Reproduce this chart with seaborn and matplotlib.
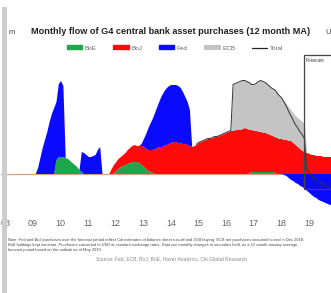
import numpy as np
import pandas as pd
import matplotlib
matplotlib.use("Agg")
import matplotlib.pyplot as plt
import seaborn as sns
from matplotlib.patches import Patch, Rectangle
from matplotlib.lines import Line2D

# Monthly flow, 12m MA (USD bn), Jan 2008 .. Dec 2019, one row per year
boe = [
    0, 0, 0, 0, 0, 0, 0, 0, 0, 0, 0, 0,
    0, 0, 0, 0, 0, 0, 0, 0, 0, 0, 14, 17,
    17, 17, 16, 15, 13, 11, 9, 7, 4, 2, 0, 0,
    0, 0, 0, 0, 0, 0, 0, 0, 0, 0, 0, 1,
    3, 5, 7, 8, 9, 10, 11, 12, 12, 12, 11, 9,
    7, 5, 3, 2, 1, 0, 0, 0, 0, 0, 0, 0,
    0, 0, 0, 0, 0, 0, 0, 0, 0, 0, 0, 0,
    0, 0, 0, 0, 0, 0, 0, 0, 0, 0, 0, 0,
    0, 0, 0, 0, 0, 0, 0, 0, 0, 0, 1, 2,
    2, 2, 2, 2, 2, 2, 2, 2, 2, 1, 0, 0,
    0, 0, 0, 0, 0, 0, 0, 0, 0, 0, 0, 0,
    0, 0, 0, 0, 0, 0, 0, 0, 0, 0, 0, 0,
]
boj = [
    0, 0, 0, 0, 0, 0, 0, 0, 0, 0, 0, 0,
    0, 0, 0, 0, 0, 0, 0, 0, 0, 0, 0, 0,
    0, 0, 0, 0, 0, 0, 0, 0, 0, 0, 0, 0,
    0, 0, 0, 0, 0, 0, 0, 0, 0, 0, 5, 8,
    9, 10, 10, 11, 12, 14, 15, 16, 17, 16, 17, 19,
    20, 20, 21, 22, 23, 25, 26, 27, 27, 28, 29, 30,
    31, 32, 32, 31, 31, 30, 30, 29, 28, 27, 28, 29,
    31, 32, 33, 34, 35, 35, 36, 37, 37, 38, 39, 40,
    41, 42, 43, 43, 44, 44, 44, 45, 46, 45, 43, 42,
    41, 41, 40, 40, 39, 39, 38, 37, 36, 36, 36, 35,
    35, 34, 34, 33, 33, 31, 29, 27, 25, 23, 22, 21,
    20, 19, 19, 18, 18, 18, 17, 17, 17, 17, 17, 17,
]
fed = [
    0, 0, 0, 0, 0, 0, 0, 0, 0, 0, 0, 0,
    0, 0, 6, 16, 26, 34, 42, 52, 60, 66, 58, 73,
    76, 71, 0, 0, 0, 0, 0, 0, 0, 20, 21, 19,
    17, 17, 18, 19, 24, 27, 0, 0, 0, 0, 0, 0,
    0, 0, 0, 0, 0, 0, 0, 0, 0, 0, 0, 2,
    8, 15, 22, 27, 32, 37, 42, 47, 52, 55, 57, 58,
    58, 57, 57, 57, 55, 52, 47, 43, 36, 0, 0, 0,
    0, 0, 0, 0, 0, 0, 0, 0, 0, 0, 0, 0,
    0, 0, 0, 0, 0, 0, 0, 0, 0, 0, 0, 0,
    0, 0, 0, 0, 0, 0, 0, 0, 0, 0, 0, 0,
    0, -1, -2, -4, -6, -7, -9, -10, -12, -13, -15, -17,
    -19, -21, -23, -24, -26, -27, -28, -29, -30, -31, -31, -32,
]
ecb = [
    0, 0, 0, 0, 0, 0, 0, 0, 0, 0, 0, 0,
    0, 0, 0, 0, 0, 0, 0, 0, 0, 0, 0, 0,
    0, 0, 0, 0, 0, 0, 0, 0, 0, 0, 0, 0,
    0, 0, 0, 0, 0, 0, 0, 0, 0, 0, 0, 0,
    0, 0, 0, 0, 0, 0, 0, 0, 0, 0, 0, 0,
    0, 0, 0, 0, 0, 0, 0, 0, 0, 0, 0, 0,
    0, 0, 0, 0, 0, 0, 0, 0, 0, 0, 0, 0,
    0, 0, 0, 0, 0, 0, 0, 0, 0, 0, 0, 0,
    0, 0, 0, 46, 46, 47, 48, 48, 47, 47, 47, 45,
    46, 47, 50, 51, 51, 50, 49, 48, 47, 47, 45, 43,
    41, 39, 36, 34, 31, 30, 29, 29, 29, 29, 28, 0,
    0, 0, 0, 0, 0, 0, 0, 0, 0, 0, 0, 0,
]
years = list(range(2008, 2020))
year_labels = ["08", "09", "10", "11", "12", "13", "14", "15", "16", "17", "18", "19"]
forecast_start = 2018.82

df = pd.DataFrame({"BoE": boe, "BoJ": boj, "Fed": fed, "ECB": ecb})
df["t"] = 2008 + np.arange(len(df)) / 12
df["Total"] = df[["BoE", "BoJ", "Fed", "ECB"]].sum(axis=1)

colors = {"BoE": "#1fa64a", "BoJ": "#ff0a0a", "Fed": "#0a0aff", "ECB": "#c4c4c4"}

sns.set_style("white")
plt.rcParams["font.family"] = ["Liberation Sans", "DejaVu Sans"]

fig = plt.figure(figsize=(3.31, 2.93), dpi=100)
# chart is cropped on both sides, so the axes run past the figure edges
ax = fig.add_axes([1.26 / 331, 79.5 / 293, 351.9 / 331, 170 / 293])

ax.axhline(0, color="#d9a27a", lw=0.9, zorder=1)

# stacked areas, positive part; Fed runoff drawn below zero
fed_pos = df["Fed"].clip(lower=0)
fed_neg = df["Fed"].clip(upper=0)
b1 = df["BoE"]
b2 = b1 + df["BoJ"]
b3 = b2 + fed_pos
b4 = b3 + df["ECB"]
ax.fill_between(df["t"], 0, b1, color=colors["BoE"], lw=0, zorder=2)
ax.fill_between(df["t"], b1, b2, color=colors["BoJ"], lw=0, zorder=2)
ax.fill_between(df["t"], b2, b3, color=colors["Fed"], lw=0, zorder=2)
ax.fill_between(df["t"], b3, b4, color=colors["ECB"], lw=0, zorder=2)
ax.fill_between(df["t"], fed_neg, 0, color=colors["Fed"], lw=0, zorder=2)

tot = df[df["t"] >= 2014.9]
sns.lineplot(x=tot["t"], y=tot["Total"], ax=ax, color="#333333", lw=0.7,
             zorder=3, legend=False)

# forecast box
ax.add_patch(Rectangle((forecast_start, -15), 3, 133.5, fill=False,
                       ec="#444444", lw=0.9, zorder=4, clip_on=False))
ax.text(forecast_start + 0.07, 113, "Forecast", fontsize=3.4, color="#333333",
        va="center", ha="left", zorder=4)

ax.set_xlim(2007.85, 2020.6)
ax.set_ylim(-40, 130)
ax.set_xticks(years)
ax.set_xticklabels(year_labels)
ax.set_yticks([])
ax.tick_params(axis="x", length=0, pad=4, labelsize=6.5, labelcolor="#666666")
for s in ax.spines.values():
    s.set_visible(False)
ax.set_xlabel("")
ax.set_ylabel("")

fig.text(171 / 331, 1 - 32 / 293,
         "Monthly flow of G4 central bank asset purchases (12 month MA)",
         ha="center", va="center", fontsize=6.6, fontweight="bold", color="#222222")
fig.text(9 / 331, 1 - 32 / 293, "m", ha="left", va="center", fontsize=5.5, color="#444444")
fig.text(325 / 331, 1 - 32 / 293, "U", ha="left", va="center", fontsize=5.5, color="#444444")

handles = [Patch(color=colors["BoE"]), Patch(color=colors["BoJ"]),
           Patch(color=colors["Fed"]), Patch(fc=colors["ECB"], ec="#aaaaaa", lw=0.4),
           Line2D([0], [0], color="#222222", lw=0.9)]
fig.legend(handles, ["BoE", "BoJ", "Fed", "ECB", "Total"], loc="center",
           bbox_to_anchor=(175 / 331, 1 - 48 / 293), ncol=5, frameon=False,
           fontsize=4.6, handlelength=2.4, handleheight=0.6, columnspacing=2.6,
           handletextpad=0.4, labelcolor="#666666")

note = ("Note: Fed and BoJ purchases over the forecast period reflect Citi estimates of balance sheet run-off and JGB buying; ECB net purchases assumed to end in Dec 2018,\n"
        "BoE holdings kept constant. Purchases converted to USD at constant exchange rates. Data are monthly changes in securities held, as a 12 month moving average,\n"
        "forecast period based on the outlook as of May 2019.")
fig.text(8 / 331, 1 - 245 / 293, note, ha="left", va="center", fontsize=2.9,
         color="#444444", linespacing=1.25)
fig.text(172 / 331, 1 - 260 / 293,
         "Source: Fed, ECB, BoJ, BoE, Haver Analytics, Citi Global Research",
         ha="center", va="center", fontsize=3.6, color="#888888")

# grey border strip of the screenshot
fig.add_artist(Rectangle((2 / 331, 0), 5 / 331, 286 / 293, transform=fig.transFigure,
                         fc="#cdcdcd", ec="none", zorder=10))

fig.savefig("out.png", dpi=100)
